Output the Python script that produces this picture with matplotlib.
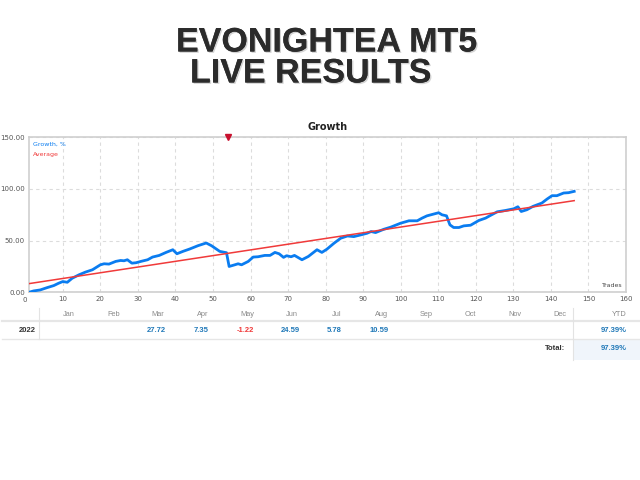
import numpy as np
import matplotlib
matplotlib.use("Agg")
from matplotlib import pyplot as plt
from matplotlib import patheffects as pe
from matplotlib.lines import Line2D
from matplotlib.patches import Rectangle

# growth curve (trade number, growth %)
trades = [1, 2.2, 4, 5.8, 7.6, 8.9, 10, 11.2, 12.5, 14.3, 16, 17.9, 20, 21, 22.3,
          24.1, 25.4, 26.3, 27.2, 28.4, 29.5, 30.8, 32.6, 33.9, 35.7, 37.5, 39.3,
          40.4, 42, 43.8, 46, 48.2, 49.6, 51.8, 53.6, 54.3, 55.8, 56.7, 57.6, 59.4,
          60.7, 62, 63.8, 65.2, 66.5, 67.6, 68.8, 69.6, 70.8, 71.7, 73.7, 75.4,
          77.7, 79, 80.3, 82.2, 84, 85.8, 87.5, 89.3, 91, 92.1, 93.3, 95.5, 97.3,
          100, 102.2, 104.4, 105.7, 107, 110.1, 111, 112.2, 113.1, 114.1, 115.5,
          116.8, 118.6, 120.8, 122.6, 123.9, 125.7, 127.9, 130.1, 131.2, 132.1,
          133.6, 135.2, 137.6, 139, 140.3, 141.6, 143.4, 144.7, 146.2]
growth = [0, 1.3, 2.3, 4.5, 6.5, 8.8, 10.4, 9.7, 13.6, 16.9, 19.5, 21.8, 26.6, 27.6,
          27.3, 29.9, 30.8, 30.5, 31.5, 28.2, 28.6, 29.9, 31.5, 34.1, 35.7, 38.6,
          41.2, 37.3, 39.6, 41.9, 45.1, 47.7, 45.1, 39.6, 38.3, 25, 26.6, 27.6,
          26.6, 29.9, 34.1, 34.4, 35.7, 35.7, 38.6, 37.3, 33.8, 35.4, 34.4, 35.7,
          31.5, 34.7, 41.2, 38.6, 41.6, 47.4, 52.3, 54.5, 53.9, 55.5, 57.1, 58.8,
          57.8, 61, 63, 66.9, 69.2, 69.2, 71.8, 74, 77, 75, 74, 65.3, 62.7, 62.7,
          64.3, 64.9, 69.5, 71.8, 74.4, 77.9, 79.2, 80.8, 82.8, 78.2, 79.9, 83.1,
          86.4, 90.3, 93.5, 93.5, 96.1, 96.4, 97.7]

avg_x = [1, 146.2]
avg_y = [8.4, 88.7]

marker_x = [54]

months = ["Jan", "Feb", "Mar", "Apr", "May", "Jun",
          "Jul", "Aug", "Sep", "Oct", "Nov", "Dec"]
month_vals = [None, None, 27.72, 7.35, -1.22, 24.59, 5.78, 10.59,
              None, None, None, None]
year = "2022"
ytd = "97.39%"
total = "97.39%"

BLUE = "#0a7cf0"
RED = "#f03a3a"
VAL_BLUE = "#1f78b8"
TFONT = "Liberation Sans"

fig = plt.figure(figsize=(6.4, 4.8), dpi=100)

# big heading
title_kw = dict(family="Liberation Sans", weight="bold", fontsize=24.5,
                color="#2b2b2b", va="center",
                path_effects=[pe.withSimplePatchShadow(offset=(1, -1),
                                                       shadow_rgbFace="#aaaaaa",
                                                       alpha=0.5),
                              pe.Normal()])
fig.text(176 / 640, 1 - 43 / 480, "EVONIGHTEA MT5", ha="left", **title_kw)
fig.text(190 / 640, 1 - 74 / 480, "LIVE RESULTS", ha="left", **title_kw)

# chart
ax = fig.add_axes([29 / 640, 1 - 292.3 / 480, 597 / 640, 155 / 480])
ax.plot(trades, growth, color=BLUE, lw=2.0, zorder=3)
ax.plot(avg_x, avg_y, color=RED, lw=1.1, zorder=4)
ax.plot(marker_x, [150] * len(marker_x), marker="v", color="#c8102e",
        ms=4, ls="none", clip_on=False, zorder=5)

ax.set_xlim(1, 160)
ax.set_ylim(0, 150)
ax.set_xticks(range(10, 161, 10))
ax.set_yticks([0, 50, 100, 150])
ax.set_yticklabels(["0.00", "50.00", "100.00", "150.00"])
ax.tick_params(length=0, labelsize=5, labelcolor="#555555", pad=3)
ax.text(0, -0.03, "0", transform=ax.get_xaxis_transform(), ha="center",
        va="top", fontsize=5, color="#555555")
ax.grid(True, ls=(0, (3, 3)), color="#dcdcdc", lw=0.8)
for s in ax.spines.values():
    s.set_color("#cfcfcf")
    s.set_linewidth(1.2)

ax.text(0.006, 0.97, "Growth, %", transform=ax.transAxes, color=BLUE,
        fontsize=4.5, va="top")
ax.text(0.006, 0.905, "Average", transform=ax.transAxes, color=RED,
        fontsize=4.5, va="top")
ax.text(0.995, 0.03, "Trades", transform=ax.transAxes, color="#444444",
        fontsize=4.5, ha="right", va="bottom")
ax.set_title("Growth", fontsize=7, weight="bold", color="#222222", pad=5)

# monthly table below the chart, drawn on an overlay in pixel units
tab = fig.add_axes([0, 0, 1, 1], zorder=-1)
tab.set_xlim(0, 640)
tab.set_ylim(480, 0)
tab.axis("off")

tab.add_patch(Rectangle((573, 339), 67, 21, color="#f0f5fb", lw=0))
tab.add_line(Line2D([2, 640], [321, 321], color="#e6e6e6", lw=1.6))
tab.add_line(Line2D([2, 640], [339, 339], color="#e6e6e6", lw=1.0))
tab.add_line(Line2D([39, 39], [308, 339], color="#e3e3e3", lw=0.8))
tab.add_line(Line2D([573, 573], [308, 360], color="#e3e3e3", lw=0.8))

col_x = [69 + i * 44.6 for i in range(len(months))]
for cx, m, v in zip(col_x, months, month_vals):
    tab.text(cx, 314, m, ha="center", va="center", fontsize=5.3,
             family=TFONT, color="#8a8a8a")
    if v is not None:
        tab.text(cx - 2, 331, f"{v:.2f}", ha="center", va="center",
                 fontsize=5.5, weight="bold", family=TFONT,
                 color=RED if v < 0 else VAL_BLUE)
tab.text(27, 331, year, ha="center", va="center", fontsize=5.5,
         weight="bold", family=TFONT, color="#333333")
tab.text(627, 314, "YTD", ha="right", va="center", fontsize=5.3,
         family=TFONT, color="#8a8a8a")
tab.text(627, 331, ytd, ha="right", va="center", fontsize=5.5,
         weight="bold", family=TFONT, color=VAL_BLUE)
tab.text(565, 349, "Total:", ha="right", va="center", fontsize=5.5,
         weight="bold", family=TFONT, color="#333333")
tab.text(627, 349, total, ha="right", va="center", fontsize=5.5,
         weight="bold", family=TFONT, color=VAL_BLUE)

fig.savefig("out.png", dpi=100)
